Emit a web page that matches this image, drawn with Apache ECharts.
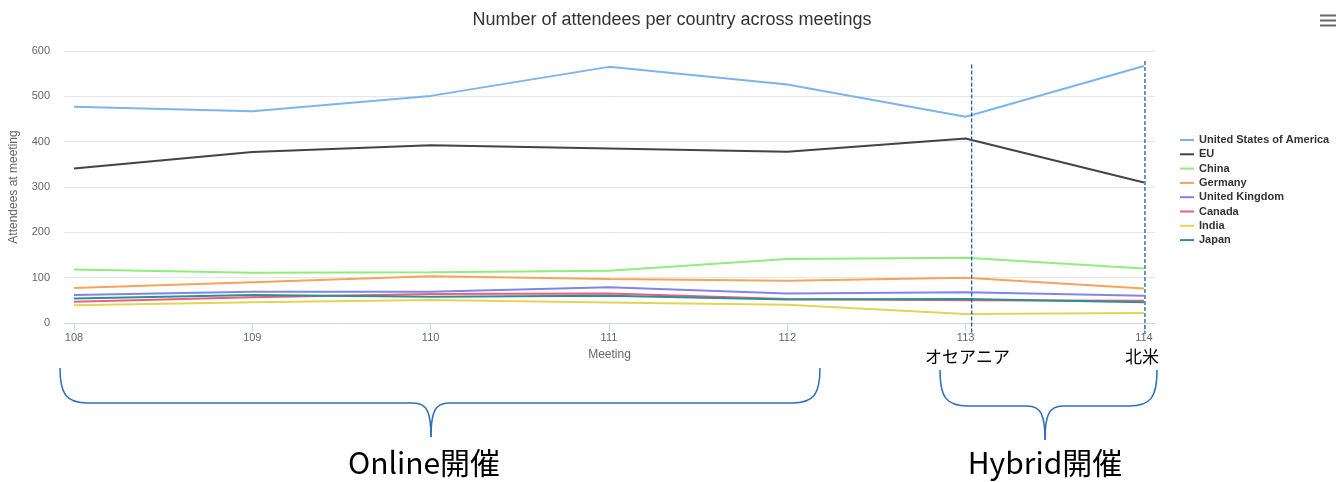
<!DOCTYPE html>
<html>
<head>
<meta charset="utf-8">
<script src="https://cdn.jsdelivr.net/npm/echarts@6/dist/echarts.min.js"></script>
<style>
html,body{margin:0;padding:0;background:#fff;}
#c{width:1344px;height:482px;}
</style>
</head>
<body>
<div id="c"></div>
<script>
var meetings = [108, 109, 110, 111, 112, 113, 114];
var seriesNames = ['United States of America', 'EU', 'China', 'Germany', 'United Kingdom', 'Canada', 'India', 'Japan'];
var usa     = [477, 467, 501, 565, 526, 455, 567];
var eu      = [341, 377, 392, 385, 378, 407, 310];
var china   = [118, 111, 112, 115, 141, 144, 120];
var germany = [77, 90, 103, 97, 93, 100, 76];
var uk      = [62, 69, 69, 79, 65, 68, 60];
var canada  = [47, 57, 64, 65, 53, 50, 49];
var india   = [39, 46, 51, 45, 40, 20, 22];
var japan   = [54, 62, 58, 60, 52, 53, 46];
var regionLabels = ['オセアニア', '北米'];
var regionMeetings = [113, 114];
var groupLabels = ['Online開催', 'Hybrid開催'];

var values = [usa, eu, china, germany, uk, canada, india, japan];
var colors = ['#7cb5ec', '#434348', '#90ed7d', '#f7a35c', '#8085e9', '#f15c80', '#e4d354', '#2b908f'];
var baseFont = '"Liberation Sans", "DejaVu Sans", sans-serif';

var chart = echarts.init(document.getElementById('c'));
var series = seriesNames.map(function (n, i) {
  return {
    name: n, type: 'line', showSymbol: false, symbol: 'none',
    data: meetings.map(function (m, j) { return [m, values[i][j]]; }),
    lineStyle: { width: 2, color: colors[i] },
    itemStyle: { color: colors[i] },
    animation: false, z: 2 + i
  };
});

chart.setOption({
  animation: false,
  title: {
    text: 'Number of attendees per country across meetings',
    left: 'center', top: 6,
    textStyle: { fontFamily: baseFont, fontSize: 18, fontWeight: 'normal', color: '#333' }
  },
  grid: { left: 63, right: 189, top: 51, bottom: 159 },
  legend: {
    orient: 'vertical', left: 1175, top: 128,
    icon: 'rect', itemWidth: 14, itemHeight: 2, itemGap: 0.3,
    textStyle: { fontFamily: baseFont, fontSize: 11, fontWeight: 'bold', color: '#333', lineHeight: 14 },
    data: seriesNames
  },
  xAxis: {
    type: 'value', min: 107.944, max: 114.062,
    name: 'Meeting', nameLocation: 'middle', nameGap: 26,
    nameTextStyle: { fontFamily: baseFont, fontSize: 12, color: '#666' },
    axisLine: { show: true, lineStyle: { color: '#ccd6eb', width: 1 } },
    axisTick: { show: true, customValues: meetings, length: 8, lineStyle: { color: '#ccd6eb' } },
    axisLabel: { customValues: meetings, margin: 9, fontFamily: baseFont, fontSize: 11, color: '#666' },
    splitLine: { show: false }
  },
  yAxis: {
    type: 'value', min: 0, max: 600, interval: 100,
    name: 'Attendees at meeting', nameLocation: 'middle', nameGap: 44,
    nameTextStyle: { fontFamily: baseFont, fontSize: 12, color: '#666' },
    axisLine: { show: false }, axisTick: { show: false },
    axisLabel: { margin: 14, fontFamily: baseFont, fontSize: 11, color: '#666' },
    splitLine: { lineStyle: { color: '#e6e6e6', width: 1 } }
  },
  series: series
});

// overlay annotations
var g = [];
[15.5, 20.5, 25.5].forEach(function (y) {
  g.push({ type: 'rect', shape: { x: 1320, y: y - 1, width: 16, height: 2 }, style: { fill: '#666' } });
});
var offs = [6, 1];
regionMeetings.forEach(function (m, i) {
  var px = chart.convertToPixel({ xAxisIndex: 0 }, m) + offs[i];
  var top = chart.convertToPixel({ yAxisIndex: 0 }, i === 0 ? 570 : 578);
  g.push({ type: 'line', shape: { x1: px, y1: top, x2: px, y2: 334 },
    style: { stroke: '#1f5fa8', lineWidth: 1.3, lineDash: [4, 2] }, z: 50 });
  var cx = chart.convertToPixel({ xAxisIndex: 0 }, m);
  g.push({ type: 'text', x: cx + (i === 0 ? 2 : -2), y: 357,
    style: { text: regionLabels[i], fill: '#000', font: '17px "Noto Sans CJK JP"', align: 'center', verticalAlign: 'middle' }, z: 50 });
});

// braces built from curves and lines
var braceStyle = { stroke: '#2e6fbd', lineWidth: 1.5, fill: null };
function bz(x1, y1, c1x, c1y, c2x, c2y, x2, y2) {
  g.push({ type: 'bezierCurve', shape: { x1: x1, y1: y1, cpx1: c1x, cpy1: c1y, cpx2: c2x, cpy2: c2y, x2: x2, y2: y2 }, style: braceStyle });
}
function ln(x1, y1, x2, y2) {
  g.push({ type: 'line', shape: { x1: x1, y1: y1, x2: x2, y2: y2 }, style: braceStyle });
}
function brace(xl, xm, xr, yTop, yMid, yTip) {
  bz(xl, yTop, xl, yMid - 9, xl + 6, yMid, xl + 28, yMid);
  ln(xl + 28, yMid, xm - 18, yMid);
  bz(xm - 18, yMid, xm - 4, yMid, xm, yMid + 9, xm, yTip);
  bz(xm, yTip, xm, yMid + 9, xm + 4, yMid, xm + 18, yMid);
  ln(xm + 18, yMid, xr - 28, yMid);
  bz(xr - 28, yMid, xr - 6, yMid, xr, yMid - 9, xr, yTop);
}
brace(60, 431, 820, 368, 403, 437);
brace(940, 1045, 1157, 370, 406, 440);

g.push({ type: 'text', x: 424, y: 463, style: { text: groupLabels[0], fill: '#000', font: '30px "Noto Sans CJK JP"', align: 'center', verticalAlign: 'middle' } });
g.push({ type: 'text', x: 1045, y: 463, style: { text: groupLabels[1], fill: '#000', font: '30px "Noto Sans CJK JP"', align: 'center', verticalAlign: 'middle' } });
chart.setOption({ graphic: g });
</script>
</body>
</html>
